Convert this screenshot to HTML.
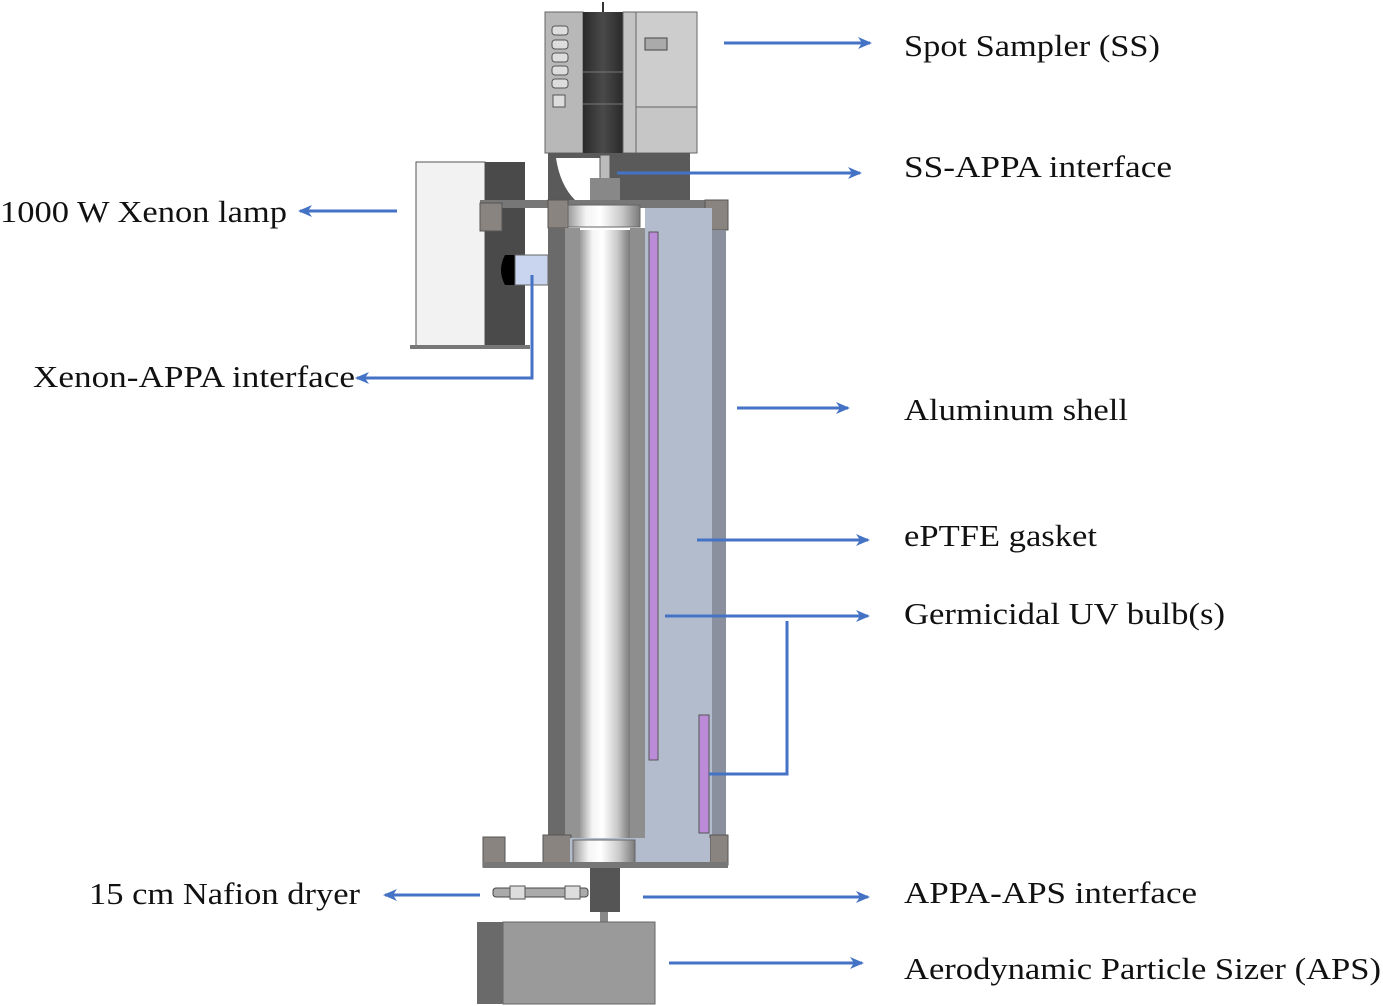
<!DOCTYPE html>
<html><head><meta charset="utf-8"><style>
html,body{margin:0;padding:0;background:#fff;}
svg{display:block;}
text{font-family:"Liberation Serif","DejaVu Serif",serif;font-size:31px;fill:#111;}
</style></head><body>
<svg width="1383" height="1006" viewBox="0 0 1383 1006" xmlns="http://www.w3.org/2000/svg">
<defs>
<linearGradient id="cyl" x1="0" x2="1" y1="0" y2="0">
<stop offset="0" stop-color="#9a9a9a"/><stop offset="0.25" stop-color="#f4f4f4"/><stop offset="0.45" stop-color="#ffffff"/><stop offset="0.75" stop-color="#c8c8c8"/><stop offset="1" stop-color="#7a7a7a"/>
</linearGradient>
<linearGradient id="dark" x1="0" x2="1"><stop offset="0" stop-color="#2a2a2a"/><stop offset="0.5" stop-color="#4a4a4a"/><stop offset="1" stop-color="#2a2a2a"/></linearGradient>
<marker id="ah" markerWidth="14" markerHeight="12" refX="12" refY="6" orient="auto" markerUnits="userSpaceOnUse"><path d="M0,0 L14,6 L0,12 L4,6 z" fill="#4472c4"/></marker>
</defs>

<!-- Spot sampler -->
<rect x="545" y="12" width="38" height="141" fill="#b8b8b8" stroke="#666"/>
<g fill="#ddd" stroke="#555">
<rect x="552" y="26" width="16" height="9" rx="3"/><rect x="552" y="40" width="16" height="9" rx="3"/><rect x="552" y="53" width="16" height="9" rx="3"/><rect x="552" y="66" width="16" height="9" rx="3"/><rect x="552" y="79" width="16" height="9" rx="3"/><rect x="553" y="95" width="12" height="12"/>
</g>
<rect x="583" y="12" width="40" height="141" fill="url(#dark)"/>
<line x1="583" y1="72" x2="623" y2="72" stroke="#777"/><line x1="583" y1="104" x2="623" y2="104" stroke="#777"/>
<line x1="603" y1="2" x2="603" y2="12" stroke="#333" stroke-width="2"/>
<rect x="623" y="12" width="13" height="141" fill="#c4c4c4" stroke="#666"/>
<rect x="636" y="12" width="61" height="95" fill="#cdcdcd" stroke="#666"/>
<rect x="636" y="107" width="61" height="46" fill="#c6c6c6" stroke="#666"/>
<rect x="645" y="38" width="22" height="12" fill="#aaa" stroke="#444"/>
<!-- under SS -->
<rect x="548" y="153" width="142" height="50" fill="#5a5a5a"/>
<path d="M556,158 L600,158 L600,200 L575,200 Q560,185 556,158 z" fill="#fff"/>
<rect x="600" y="155" width="10" height="40" fill="#bbb" stroke="#555"/>
<rect x="590" y="178" width="30" height="22" fill="#888"/>
<!-- Lamp -->
<rect x="416" y="162" width="69" height="185" fill="#f2f2f2" stroke="#555"/>
<rect x="485" y="162" width="40" height="185" fill="#4a4a4a"/>
<rect x="410" y="345" width="120" height="4" fill="#777"/>
<path d="M517,255 L505,255 Q497,270 505,285 L517,285 z" fill="#000"/>
<rect x="515" y="255" width="33" height="30" fill="#c9d4ee" stroke="#666"/>
<!-- bracket top -->
<rect x="480" y="200" width="248" height="8" fill="#777"/>
<rect x="480" y="203" width="22" height="28" fill="#8a8480" stroke="#555"/>
<rect x="548" y="200" width="20" height="28" fill="#8a8480" stroke="#555"/>
<rect x="705" y="200" width="23" height="30" fill="#8a8480" stroke="#555"/>
<!-- main column -->
<rect x="548" y="228" width="17" height="610" fill="#6a6a6a"/>
<rect x="565" y="228" width="15" height="610" fill="#939393"/>
<rect x="580" y="230" width="50" height="610" fill="url(#cyl)"/>
<rect x="630" y="228" width="15" height="610" fill="#8e8e8e"/>
<rect x="645" y="208" width="67" height="630" fill="#b3bccd"/>
<rect x="712" y="230" width="14" height="608" fill="#8a909e"/>
<rect x="568" y="205" width="72" height="22" fill="url(#cyl)" stroke="#666"/>
<rect x="649" y="232" width="9" height="528" fill="#bb8bd8" stroke="#555"/>
<rect x="699" y="715" width="10" height="118" fill="#bb8bd8" stroke="#555"/>
<!-- bottom -->
<rect x="483" y="837" width="22" height="30" fill="#8a8480" stroke="#555"/>
<rect x="543" y="835" width="28" height="32" fill="#8a8480" stroke="#555"/>
<rect x="710" y="835" width="18" height="30" fill="#8a8480" stroke="#555"/>
<rect x="570" y="838" width="140" height="27" fill="#b3bccd"/>
<rect x="573" y="840" width="62" height="24" fill="url(#cyl)" stroke="#666"/>
<rect x="483" y="862" width="245" height="6" fill="#777"/>
<!-- dryer & valve -->
<rect x="493" y="888" width="95" height="9" rx="3" fill="#aaa" stroke="#444"/>
<rect x="510" y="886" width="15" height="13" fill="#ddd" stroke="#555"/>
<rect x="565" y="886" width="15" height="13" fill="#ddd" stroke="#555"/>
<rect x="590" y="868" width="30" height="44" fill="#555"/>
<rect x="600" y="912" width="8" height="12" fill="#888"/>
<!-- APS -->
<rect x="477" y="922" width="26" height="82" fill="#6a6a6a"/>
<rect x="503" y="922" width="152" height="82" fill="#9a9a9a" stroke="#666"/>

<!-- arrows -->
<g stroke="#4472c4" stroke-width="3" fill="none" marker-end="url(#ah)">
<line x1="724" y1="43" x2="870" y2="43"/>
<line x1="617" y1="173" x2="860" y2="173"/>
<line x1="397" y1="211" x2="300" y2="211"/>
<polyline points="532,275 532,378 357,378"/>
<line x1="737" y1="408" x2="848" y2="408"/>
<line x1="697" y1="540" x2="868" y2="540"/>
<line x1="665" y1="616" x2="868" y2="616"/>
<line x1="480" y1="895" x2="385" y2="895"/>
<line x1="643" y1="897" x2="868" y2="897"/>
<line x1="669" y1="963" x2="862" y2="963"/>
</g>
<polyline points="709,774 787,774 787,621" stroke="#4472c4" stroke-width="3" fill="none"/>

<text x="904" y="56" textLength="256" lengthAdjust="spacingAndGlyphs">Spot Sampler (SS)</text>
<text x="904" y="177" textLength="268" lengthAdjust="spacingAndGlyphs">SS-APPA interface</text>
<text x="0" y="222" textLength="287" lengthAdjust="spacingAndGlyphs">1000 W Xenon lamp</text>
<text x="33" y="387" textLength="322" lengthAdjust="spacingAndGlyphs">Xenon-APPA interface</text>
<text x="904" y="420" textLength="224" lengthAdjust="spacingAndGlyphs">Aluminum shell</text>
<text x="904" y="546" textLength="193" lengthAdjust="spacingAndGlyphs">ePTFE gasket</text>
<text x="904" y="624" textLength="321" lengthAdjust="spacingAndGlyphs">Germicidal UV bulb(s)</text>
<text x="89" y="904" textLength="271" lengthAdjust="spacingAndGlyphs">15 cm Nafion dryer</text>
<text x="904" y="903" textLength="293" lengthAdjust="spacingAndGlyphs">APPA-APS interface</text>
<text x="904" y="979" textLength="477" lengthAdjust="spacingAndGlyphs">Aerodynamic Particle Sizer (APS)</text>
</svg>
</body></html>
